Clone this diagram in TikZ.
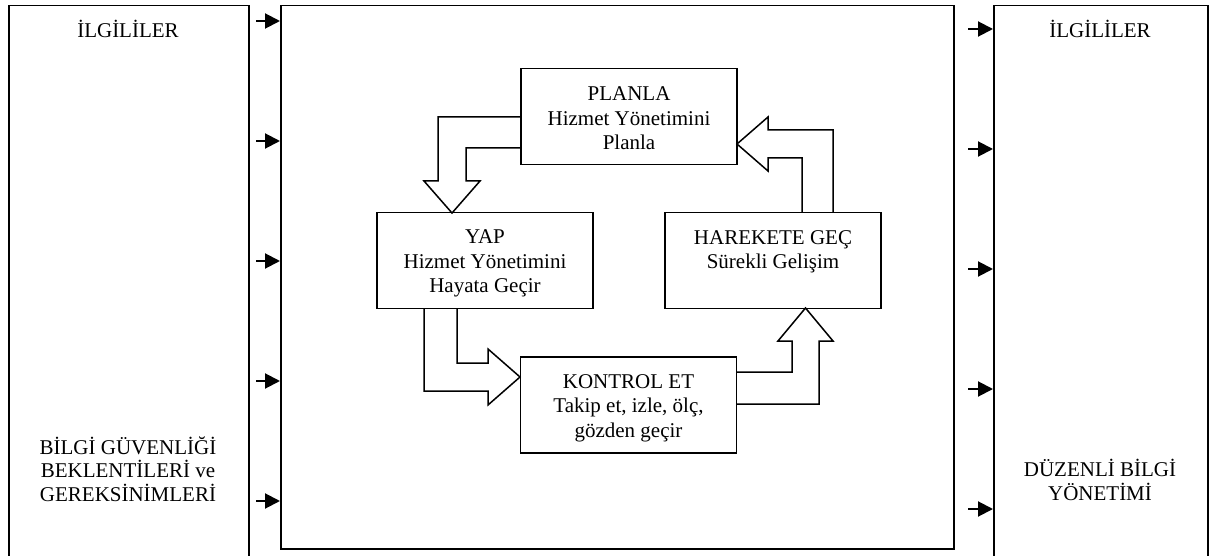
\documentclass[tikz,border=0pt]{standalone}
\usepackage{fontspec}
\setmainfont{Liberation Serif}
\usetikzlibrary{arrows.meta}
\begin{document}
\begin{tikzpicture}[x=1pt,y=-1pt,
  every node/.style={font=\fontsize{21}{25}\selectfont},
  frame/.style={draw, line width=1.5pt, inner sep=0pt},
  stage/.style={draw, line width=1.5pt, inner sep=0pt, minimum width=216pt, minimum height=96pt},
  stagetext/.style={align=center, anchor=base, inner sep=0pt, font=\fontsize{21}{24.5}\selectfont},
  blockarrow/.style={draw, line width=1.5pt, line join=miter},
  feed/.style={line width=2pt, -{Triangle[length=15pt,width=15pt]}},
  lbl/.style={align=center, anchor=base, inner sep=0pt, font=\fontsize{21}{23.5}\selectfont}]
\useasboundingbox[fill=white] (0,0) rectangle (1216,556);
% outer frames
\node[frame, minimum width=240pt, minimum height=570pt, anchor=north west] (left) at (8,5) {};
\node[frame, minimum width=673pt, minimum height=543pt, anchor=north west] (main) at (280,5) {};
\node[frame, minimum width=214pt, minimum height=570pt, anchor=north west] (right) at (993,5) {};
% labels (base = baseline of last line)
\node[lbl] (lt) at (128,38) {İLGİLİLER};
\node[lbl] (lb) at (128,501) {BİLGİ GÜVENLİĞİ\\BEKLENTİLERİ ve\\GEREKSİNİMLERİ};
\node[lbl] (rt) at (1100,38) {İLGİLİLER};
\node[lbl] (rb) at (1100,500) {DÜZENLİ BİLGİ\\YÖNETİMİ};
% stages
\node[stage] (plan) at (629,116.5) {};
\node[stage] (yap) at (485,260.5) {};
\node[stage] (act) at (773,260.5) {};
\node[stage] (chk) at (628.5,405) {};
\node[stagetext] (plantxt) at (629,150) {PLANLA\\Hizmet Yönetimini\\Planla};
\node[stagetext] (yaptxt) at (485,293) {YAP\\Hizmet Yönetimini\\Hayata Geçir};
\node[stagetext] (acttxt) at (773,269) {HAREKETE GEÇ\\Sürekli Gelişim};
\node[stagetext] (chktxt) at (628.5,437) {KONTROL ET\\Takip et, izle, ölç,\\gözden geçir};
% block arrows
\draw[blockarrow] (521,117) -- (438,117) -- (438,181) -- (424,181) -- (452,213) -- (480,181) -- (466,181) -- (466,148) -- (521,148);
\draw[blockarrow] (424,308) -- (424,391) -- (488,391) -- (488,405) -- (520,377) -- (488,349) -- (488,363) -- (457,363) -- (457,308);
\draw[blockarrow] (737,372) -- (792,372) -- (792,341) -- (778,341) -- (805.5,308) -- (833,341) -- (819,341) -- (819,404) -- (737,404);
\draw[blockarrow] (802,213) -- (802,158) -- (768,158) -- (768,171) -- (737,144) -- (768,117) -- (768,130) -- (833,130) -- (833,213);
% feed arrows
\foreach \i/\y in {1/21,2/141,3/261,4/381,5/501} {
  \coordinate (li\i) at (256,\y);
  \draw[feed] (li\i) -- (main.west |- li\i);
}
\foreach \i/\y in {1/29,2/149,3/269,4/389,5/509} {
  \coordinate (ri\i) at (968,\y);
  \draw[feed] (ri\i) -- (right.west |- ri\i);
}
\end{tikzpicture}
\end{document}
